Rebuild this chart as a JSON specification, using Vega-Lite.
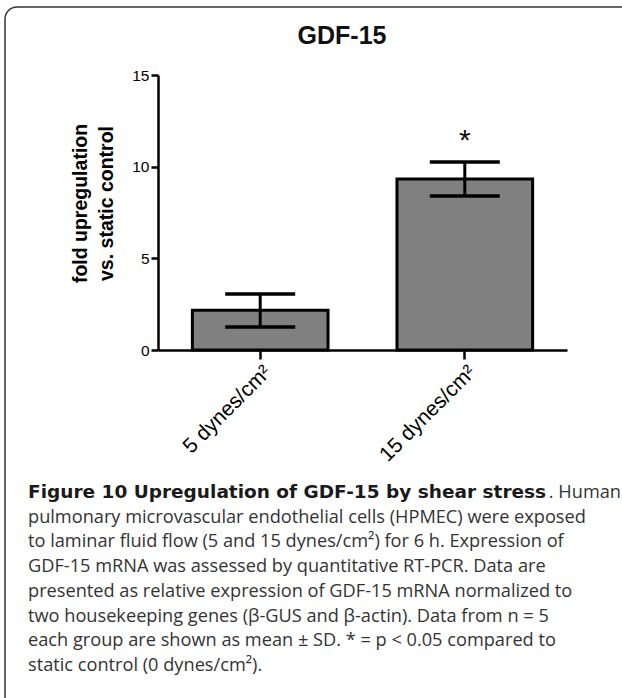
{
  "$schema": "https://vega.github.io/schema/vega-lite/v6.json",
  "width": 630,
  "height": 703,
  "autosize": {"type": "none"},
  "padding": {"left": 5, "top": 7, "right": -13, "bottom": -12},
  "background": "white",
  "config": {
    "view": {"stroke": "#333333", "strokeWidth": 1.5, "cornerRadius": 12},
    "font": "Liberation Sans"
  },
  "title": {
    "text": "GDF-15",
    "font": "Liberation Sans",
    "fontSize": 25,
    "fontWeight": "bold",
    "color": "#111111",
    "anchor": "middle",
    "frame": "group",
    "dx": 22,
    "offset": -42
  },
  "datasets": {
    "bars": [
      {"group": "5 dynes/cm²", "mean": 2.17, "lo": 1.25, "hi": 3.05, "mark": ""},
      {"group": "15 dynes/cm²", "mean": 9.33, "lo": 8.4, "hi": 10.25, "mark": "*"}
    ],
    "caption": [
      {"line": 0, "part": "bold", "text": "Figure 10 Upregulation of GDF-15 by shear stress"},
      {"line": 0, "part": "tail", "text": ". Human"},
      {"line": 1, "part": "body", "text": "pulmonary microvascular endothelial cells (HPMEC) were exposed"},
      {"line": 2, "part": "body", "text": "to laminar fluid flow (5 and 15 dynes/cm²) for 6 h. Expression of"},
      {"line": 3, "part": "body", "text": "GDF-15 mRNA was assessed by quantitative RT-PCR. Data are"},
      {"line": 4, "part": "body", "text": "presented as relative expression of GDF-15 mRNA normalized to"},
      {"line": 5, "part": "body", "text": "two housekeeping genes (β-GUS and β-actin). Data from n = 5"},
      {"line": 6, "part": "body", "text": "each group are shown as mean ± SD. * = p < 0.05 compared to"},
      {"line": 7, "part": "body", "text": "static control (0 dynes/cm²)."}
    ]
  },
  "layer": [
    {
      "data": {"name": "bars"},
      "encoding": {
        "x": {
          "field": "group",
          "type": "nominal",
          "sort": null,
          "scale": {"range": [153, 562], "paddingInner": 0.337, "paddingOuter": 0.168},
          "axis": {
            "orient": "bottom",
            "offset": -360,
            "title": null,
            "labelAngle": -45,
            "labelAlign": "right",
            "labelBaseline": "top",
            "labelFont": "Liberation Sans",
            "labelFontSize": 21,
            "labelColor": "#000000",
            "labelPadding": 2,
            "tickSize": 9,
            "tickWidth": 2.5,
            "tickColor": "#000000",
            "domainColor": "#000000",
            "domainWidth": 2.5
          }
        }
      },
      "layer": [
        {
          "mark": {"type": "bar", "fill": "#808080", "stroke": "#000000", "strokeWidth": 3},
          "encoding": {
            "y": {
              "field": "mean",
              "type": "quantitative",
              "scale": {"domain": [0, 15], "range": [343, 68], "nice": false},
              "axis": {
                "orient": "left",
                "offset": -153,
                "values": [0, 5, 10, 15],
                "grid": false,
                "title": ["fold upregulation", "vs. static control"],
                "titleFont": "Liberation Sans",
                "titleFontSize": 19.5,
                "titleFontWeight": "bold",
                "titleColor": "#000000",
                "titleLineHeight": 26,
                "titlePadding": 15,
                "titleY": 196,
                "labelFont": "Liberation Sans",
                "labelFontSize": 15.5,
                "labelColor": "#000000",
                "labelPadding": 2,
                "tickSize": 7,
                "tickWidth": 2.5,
                "tickColor": "#000000",
                "domainColor": "#000000",
                "domainWidth": 2.5
              }
            }
          }
        },
        {
          "mark": {"type": "rule", "stroke": "#000000", "strokeWidth": 3},
          "encoding": {
            "y": {"field": "lo", "type": "quantitative"},
            "y2": {"field": "hi"}
          }
        },
        {
          "mark": {"type": "tick", "color": "#000000", "size": 70, "thickness": 3.5, "opacity": 1},
          "encoding": {"y": {"field": "lo", "type": "quantitative"}}
        },
        {
          "mark": {"type": "tick", "color": "#000000", "size": 70, "thickness": 3.5, "opacity": 1},
          "encoding": {"y": {"field": "hi", "type": "quantitative"}}
        },
        {
          "mark": {"type": "text", "font": "Liberation Sans", "fontSize": 30, "color": "#111111", "baseline": "alphabetic", "dy": -12},
          "encoding": {
            "y": {"field": "hi", "type": "quantitative"},
            "text": {"field": "mark"}
          }
        }
      ]
    },
    {
      "data": {"name": "caption"},
      "encoding": {
        "x": {"datum": 0, "type": "quantitative", "scale": {"domain": [0, 1], "range": [23, 600]}, "axis": null},
        "y": {"field": "line", "type": "quantitative", "scale": {"domain": [0, 7], "range": [491, 664]}, "axis": null},
        "text": {"field": "text"}
      },
      "layer": [
        {
          "transform": [{"filter": "datum.part === 'bold'"}],
          "mark": {"type": "text", "align": "left", "baseline": "alphabetic", "font": "DejaVu Sans", "fontSize": 18.5, "fontWeight": "bold", "color": "#1a1a1a"}
        },
        {
          "transform": [{"filter": "datum.part === 'tail'"}],
          "mark": {"type": "text", "align": "right", "baseline": "alphabetic", "font": "Open Sans", "fontSize": 18.2, "color": "#333333", "dx": 593}
        },
        {
          "transform": [{"filter": "datum.part === 'body'"}],
          "mark": {"type": "text", "align": "left", "baseline": "alphabetic", "font": "Open Sans", "fontSize": 18.2, "color": "#333333"}
        }
      ]
    }
  ],
  "resolve": {"scale": {"x": "independent", "y": "independent"}}
}
